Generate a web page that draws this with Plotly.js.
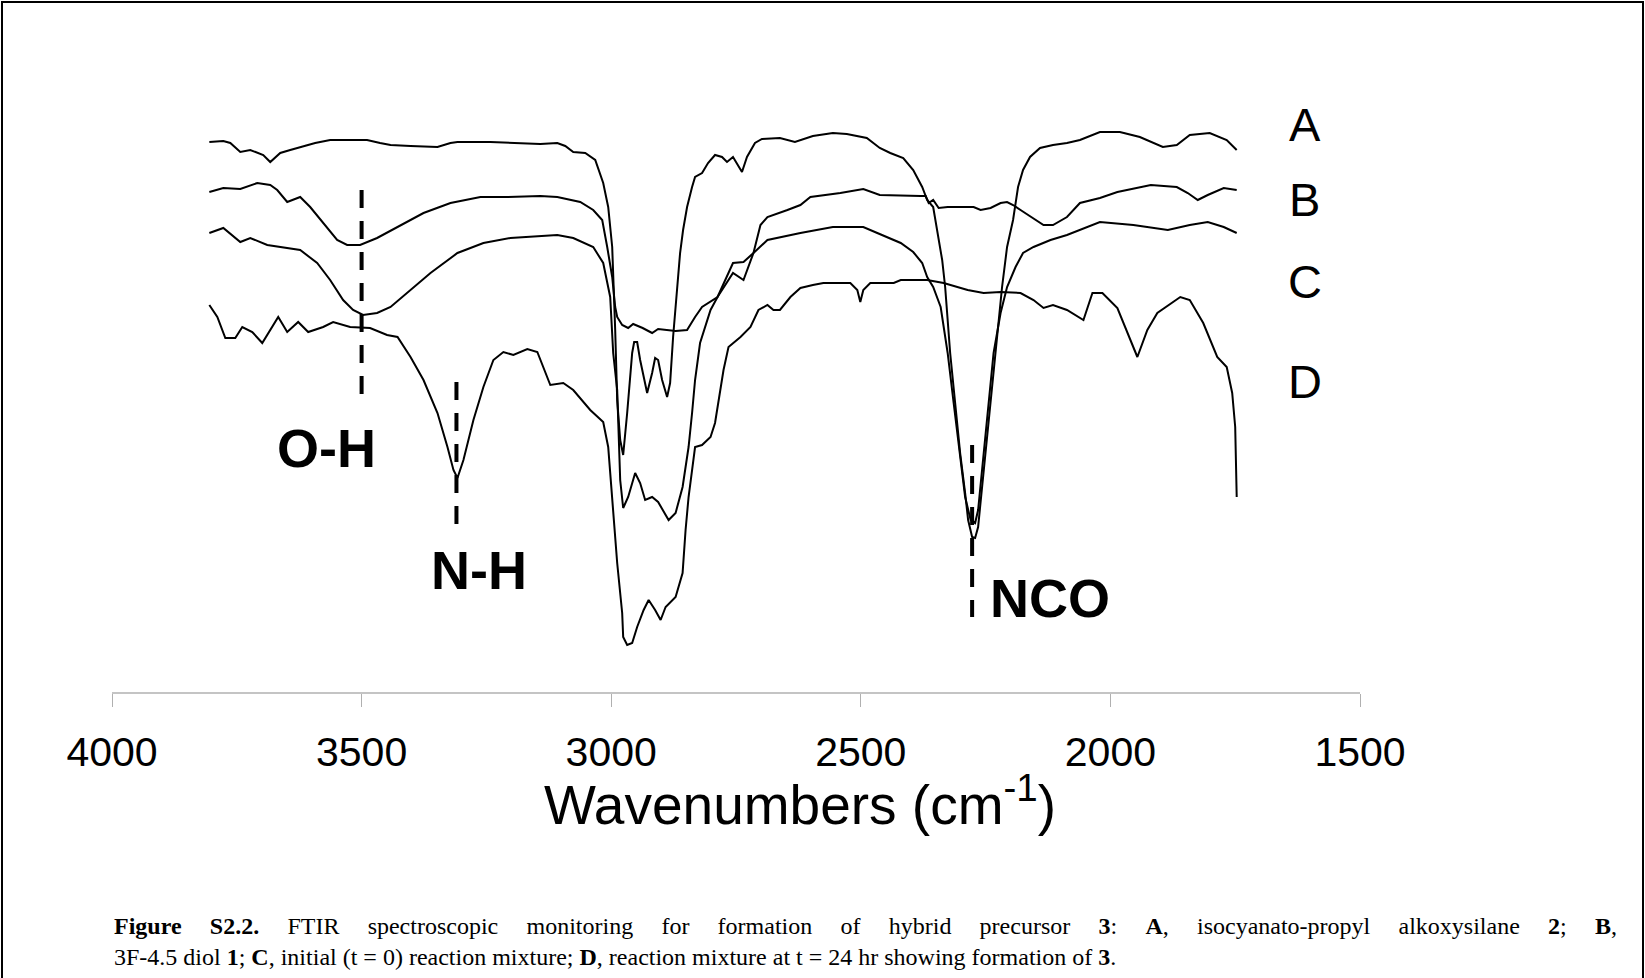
<!DOCTYPE html>
<html>
<head>
<meta charset="utf-8">
<script src="https://cdn.plot.ly/plotly-3.0.1.min.js"></script>
<style>
  html, body { margin: 0; padding: 0; background: #ffffff; }
  #chart { width: 1645px; height: 978px; }
</style>
</head>
<body>
<div id="chart"></div>
<script>
// ---- Data (wavenumber in cm-1, transmittance in arbitrary offset units) ----
const seriesLabels = ['A', 'B', 'C', 'D'];

const aWn = [3805,3777,3763,3743,3723,3709,3697,3683,3673,3663,3643,3623,3593,3563,3523,3489,3463,3442,3402,3348,3322,3308,3242,3202,3142,3108,3092,3076,3052,3032,3016,3006,2998,2992,2988,2982,2976,2968,2962,2958,2954,2948,2942,2932,2928,2918,2912,2906,2898,2888,2882,2876,2868,2862,2856,2848,2838,2832,2818,2806,2792,2778,2768,2756,2738,2728,2712,2698,2662,2632,2596,2556,2528,2488,2462,2441,2415,2395,2377,2367,2355,2347,2337,2331,2321,2311,2301,2291,2285,2277,2271,2265,2257,2247,2237,2227,2217,2207,2195,2185,2175,2161,2141,2115,2087,2061,2021,1981,1941,1895,1867,1841,1801,1767,1747];
const aT  = [550,551,549,540,542,539,537,530,535,539,542,545,549,552,552,552,549,547,546,545,549,550,550,549,548,549,546,540,539,532,509,485,445,362,292,252,237,279,312,339,350,350,332,307,299,319,334,332,312,295,309,355,405,439,462,485,505,515,519,529,537,535,530,535,520,535,549,553,554,550,556,559,558,554,544,539,534,522,505,492,485,462,432,405,339,289,239,199,172,155,154,165,205,255,305,355,405,445,472,505,522,535,544,547,549,552,560,560,555,545,547,557,559,552,542];

const bWn = [3805,3777,3743,3709,3683,3669,3649,3623,3603,3577,3549,3529,3503,3469,3428,3376,3322,3262,3208,3142,3108,3062,3036,3018,3008,2998,2992,2988,2978,2966,2956,2937,2918,2906,2871,2848,2832,2818,2787,2756,2735,2715,2701,2687,2647,2621,2601,2541,2495,2462,2380,2370,2364,2355,2344,2326,2274,2260,2240,2220,2207,2195,2180,2154,2134,2115,2087,2061,2021,1986,1919,1867,1845,1825,1805,1773,1747];
const bT  = [500,504,503,509,507,502,490,495,485,469,452,447,447,454,465,479,489,495,495,496,495,490,482,472,445,415,385,375,367,364,368,364,359,363,361,362,375,385,395,429,430,439,467,475,482,487,495,499,503,497,496,496,489,492,484,485,485,482,484,489,490,487,482,474,467,467,475,489,494,500,507,505,499,492,497,504,502];

const cWn = [3805,3777,3743,3723,3689,3649,3623,3589,3563,3537,3517,3497,3469,3442,3402,3362,3308,3256,3202,3142,3108,3076,3036,3016,3002,2996,2988,2982,2976,2966,2952,2942,2932,2918,2906,2885,2871,2857,2845,2838,2832,2822,2801,2787,2756,2735,2715,2687,2621,2556,2495,2467,2420,2395,2377,2367,2355,2340,2326,2314,2301,2291,2280,2271,2265,2254,2244,2234,2220,2207,2190,2175,2154,2120,2087,2061,2021,1954,1885,1841,1805,1773,1747];
const cT  = [459,464,450,454,447,444,442,429,412,392,382,377,379,385,402,419,439,449,454,456,457,454,445,429,395,339,302,212,184,195,219,209,192,195,190,172,179,205,245,279,312,349,382,395,419,412,439,452,459,465,465,459,449,440,429,415,405,385,339,289,239,195,172,169,182,239,289,339,379,405,425,439,445,452,457,462,470,467,462,467,470,465,459];

const dWn = [3805,3789,3773,3753,3739,3719,3699,3683,3667,3649,3627,3607,3577,3557,3523,3483,3449,3428,3402,3376,3348,3328,3316,3308,3296,3276,3256,3236,3216,3196,3168,3148,3136,3122,3096,3076,3042,3016,3006,2996,2988,2978,2976,2968,2958,2948,2935,2925,2912,2901,2891,2871,2857,2851,2845,2832,2818,2801,2792,2775,2765,2741,2721,2705,2687,2675,2662,2641,2621,2596,2575,2521,2507,2501,2495,2481,2434,2420,2380,2367,2334,2286,2254,2220,2180,2154,2134,2115,2087,2054,2036,2016,1986,1960,1946,1926,1906,1860,1841,1814,1786,1767,1756,1750,1747];
const dT  = [387,375,354,354,365,360,349,362,375,360,370,360,365,370,365,364,357,355,335,312,279,245,222,214,232,272,305,332,340,337,343,340,325,307,309,302,282,270,245,179,129,79,55,47,49,65,82,92,82,72,85,95,119,162,195,245,247,255,269,322,345,355,365,382,387,382,382,395,404,407,409,409,402,390,402,409,409,412,412,412,409,402,399,400,399,392,384,387,382,372,399,399,384,352,335,362,379,395,392,369,335,325,299,265,195];

// Band assignments marked with dashed lines
const bandLabels = ['O-H', 'N-H', 'NCO'];
const bandWn = [3500, 3310, 2277];

const xTicks = [4000, 3500, 3000, 2500, 2000, 1500];

// ---- Layout helpers (pixel geometry of the figure) ----
const W = 1645, H = 978;
const M = {l: 112, r: 285, t: 100, b: 286};
const plotW = W - M.l - M.r, plotH = H - M.t - M.b;
const px2paperX = px => (px - M.l) / plotW;
const py2paperY = py => (H - M.b - py) / plotH;

const lineStyle = {color: '#000000', width: 2};
const traces = [[aWn, aT], [bWn, bT], [cWn, cT], [dWn, dT]].map((s, i) => ({
  type: 'scatter', mode: 'lines', x: s[0], y: s[1], name: seriesLabels[i],
  line: lineStyle, hoverinfo: 'x+name'
}));

// dashed marker lines: [yTop, yBottom] extents in plot units
const bandExtents = [[502, 297], [310, 165], [247, 75]];
const shapes = bandWn.map((wn, i) => ({
  type: 'line', xref: 'x', yref: 'y', x0: wn, x1: wn,
  y0: bandExtents[i][0], y1: bandExtents[i][1],
  line: {color: '#000000', width: 4, dash: '18px,13px'}
}));
// outer frame of the figure
shapes.push({
  type: 'rect', xref: 'paper', yref: 'paper',
  x0: px2paperX(2), x1: px2paperX(1643), y0: py2paperY(1000), y1: py2paperY(2),
  line: {color: '#000000', width: 2}, fillcolor: 'rgba(0,0,0,0)'
});

const sans = 'Liberation Sans, Arial, sans-serif';
const bandLabelPos = [[3571, 244], [3264, 122], [2122, 94]];
const annotations = bandLabels.map((t, i) => ({
  x: bandLabelPos[i][0], y: bandLabelPos[i][1], xref: 'x', yref: 'y',
  text: '<b>' + t + '</b>', showarrow: false,
  font: {family: sans, size: 54, color: '#000000'}
}));
const seriesLabelY = [568, 493, 411, 311];
seriesLabels.forEach((t, i) => annotations.push({
  x: 1611, y: seriesLabelY[i], xref: 'x', yref: 'y', text: t, showarrow: false,
  font: {family: sans, size: 47, color: '#000000'}
}));

// x-axis title (placed as in the original figure, right of the plot centre)
annotations.push({
  xref: 'paper', yref: 'paper', x: px2paperX(800), y: py2paperY(801),
  xanchor: 'center', yanchor: 'middle', showarrow: false,
  text: 'Wavenumbers (cm<sup>-1</sup>)',
  font: {family: sans, size: 55, color: '#000000'}
});

// caption (first line is justified to the full text width, as in the original)
const captionFont = {family: 'Liberation Serif, Times New Roman, serif', size: 24, color: '#000000'};
const captionLine1Index = annotations.length;
annotations.push({
  xref: 'paper', yref: 'paper', x: px2paperX(112), y: py2paperY(926),
  xanchor: 'left', yanchor: 'middle', showarrow: false, align: 'left', font: captionFont,
  text: '<b>Figure S2.2.</b> FTIR spectroscopic monitoring for formation of hybrid precursor <b>3</b>: <b>A</b>, isocyanato-propyl alkoxysilane <b>2</b>; <b>B</b>,'
});
annotations.push({
  xref: 'paper', yref: 'paper', x: px2paperX(112), y: py2paperY(957),
  xanchor: 'left', yanchor: 'middle', showarrow: false, align: 'left', font: captionFont,
  text: '3F-4.5 diol <b>1</b>; <b>C</b>, initial (t = 0) reaction mixture; <b>D</b>, reaction mixture at t = 24 hr showing formation of <b>3</b>.'
});
const captionJustifyWidth = 1615 - 112;

const layout = {
  width: W, height: H,
  margin: {l: M.l, r: M.r, t: M.t, b: M.b, pad: 0},
  paper_bgcolor: '#ffffff', plot_bgcolor: '#ffffff',
  showlegend: false,
  font: {family: sans, color: '#000000'},
  xaxis: {
    range: [4000, 1500], tickvals: xTicks, ticktext: xTicks.map(String),
    showline: true, linecolor: '#c4c4c4', linewidth: 2, mirror: false,
    ticks: 'outside', ticklen: 13, tickwidth: 1, tickcolor: '#b0b0b0',
    showgrid: false, zeroline: false, fixedrange: true,
    tickfont: {family: sans, size: 41, color: '#000000'},
    ticklabelstandoff: 10
  },
  yaxis: {range: [0, 592], visible: false, showgrid: false, zeroline: false, fixedrange: true},
  shapes: shapes,
  annotations: annotations
};

Plotly.newPlot('chart', traces, layout, {displayModeBar: false, staticPlot: true}).then(gd => {
  // justify the first caption line by widening the spaces between words
  const el = gd.querySelector('.infolayer g.annotation[data-index="' + captionLine1Index + '"] text.annotation-text');
  if (!el) return;
  const txt = el.textContent || '';
  const nSpaces = (txt.match(/ /g) || []).length;
  if (!nSpaces) return;
  let ws = (captionJustifyWidth - el.getBBox().width) / nSpaces;
  if (ws <= 0) return;
  el.style.wordSpacing = ws + 'px';
  ws += (captionJustifyWidth - el.getBBox().width) / nSpaces;
  el.style.wordSpacing = ws + 'px';
});
</script>
</body>
</html>
